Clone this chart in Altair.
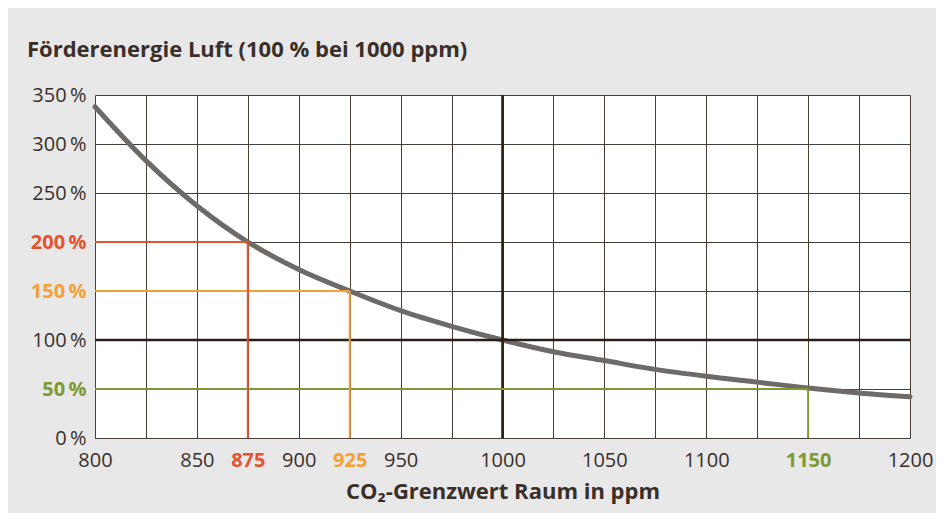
import altair as alt
import pandas as pd

# --- data ---
ppm = [800, 825, 850, 875, 900, 925, 950, 975, 1000, 1025, 1050, 1075, 1100, 1125, 1150, 1175, 1200]
energy = [338, 283, 237, 200, 172, 150, 130, 114, 100, 88, 79, 70, 63, 57, 51, 46, 42]

grid_ppm = [800, 825, 850, 875, 900, 925, 950, 975, 1000, 1025, 1050, 1075, 1100, 1125, 1150, 1175, 1200]
label_ppm = [800, 850, 875, 900, 925, 950, 1000, 1050, 1100, 1150, 1200]
grid_pct = [0, 50, 100, 150, 200, 250, 300, 350]

marker_names = ["rot", "orange", "gruen"]
marker_ppm = [875, 925, 1150]
marker_pct = [200, 150, 50]
marker_colors = ["#e5532f", "#f5a035", "#7e9a33"]

ref_ppm = [1000]
ref_pct = [100]

x_domain = [800, 1200]
y_domain = [0, 350]

TEXT = "#3a2f28"
FONT = "Open Sans"
X_TITLE = "CO₂-Grenzwert Raum in ppm"

curve_df = pd.DataFrame({"ppm": ppm, "energy": energy})
mark_df = pd.DataFrame({
    "name": marker_names,
    "ppm": marker_ppm,
    "pct": marker_pct,
    "x0": [x_domain[0]] * len(marker_ppm),
    "y0": [y_domain[0]] * len(marker_ppm),
})

xs = alt.Scale(domain=x_domain, nice=False, zero=False)
ys = alt.Scale(domain=y_domain, nice=False, zero=True)
cs = alt.Scale(domain=marker_names, range=marker_colors)

label_list = "[" + ",".join(str(v) for v in label_ppm) + "]"

x_axis = alt.Axis(
    values=grid_ppm,
    labelExpr=f"indexof({label_list}, datum.value) >= 0 ? datum.label : ''",
    format="d",
    title=X_TITLE,
    labelFlush=False,
    labelOverlap=False,
    labelColor=alt.expr(
        f"datum.value == {marker_ppm[0]} ? '{marker_colors[0]}' : datum.value == {marker_ppm[1]} ? '{marker_colors[1]}' : datum.value == {marker_ppm[2]} ? '{marker_colors[2]}' : '{TEXT}'"
    ),
    labelFontWeight=alt.expr(
        f"indexof([{marker_ppm[0]},{marker_ppm[1]},{marker_ppm[2]}], datum.value) >= 0 ? 'bold' : 'normal'"
    ),
    labelPadding=12,
    titlePadding=11,
)

y_axis = alt.Axis(
    values=grid_pct,
    labelExpr="datum.value + '\u2009%'",
    title=None,
    labelColor=alt.expr(
        f"datum.value == {marker_pct[0]} ? '{marker_colors[0]}' : datum.value == {marker_pct[1]} ? '{marker_colors[1]}' : datum.value == {marker_pct[2]} ? '{marker_colors[2]}' : '{TEXT}'"
    ),
    labelFontWeight=alt.expr(
        f"indexof([{marker_pct[0]},{marker_pct[1]},{marker_pct[2]}], datum.value) >= 0 ? 'bold' : 'normal'"
    ),
    labelPadding=9,
)

curve = alt.Chart(curve_df).mark_line(
    color="#6e6a67", strokeWidth=5, strokeCap="round", interpolate="monotone"
).encode(
    x=alt.X("ppm:Q", scale=xs, axis=x_axis, title=X_TITLE),
    y=alt.Y("energy:Q", scale=ys, axis=y_axis, title=None),
)

ref_v = alt.Chart(pd.DataFrame({"ppm": ref_ppm})).mark_rule(
    color="#2a1f18", strokeWidth=2.5
).encode(x=alt.X("ppm:Q", scale=xs, axis=x_axis, title=X_TITLE))

ref_h = alt.Chart(pd.DataFrame({"pct": ref_pct})).mark_rule(
    color="#2a1f18", strokeWidth=2.5
).encode(y=alt.Y("pct:Q", scale=ys, axis=y_axis, title=None))

mark_h = alt.Chart(mark_df).mark_rule(strokeWidth=2).encode(
    x=alt.X("x0:Q", scale=xs, axis=x_axis, title=X_TITLE),
    x2="ppm:Q",
    y=alt.Y("pct:Q", scale=ys, axis=y_axis, title=None),
    color=alt.Color("name:N", scale=cs, legend=None),
)

mark_v = alt.Chart(mark_df).mark_rule(strokeWidth=2).encode(
    x=alt.X("ppm:Q", scale=xs, axis=x_axis, title=X_TITLE),
    y=alt.Y("y0:Q", scale=ys, axis=y_axis, title=None),
    y2="pct:Q",
    color=alt.Color("name:N", scale=cs, legend=None),
)

chart = alt.layer(curve, ref_v, ref_h, mark_h, mark_v).properties(
    width=815,
    height=343,
    autosize=alt.AutoSizeParams(type="none"),
    padding={"left": 87, "top": 87, "right": 26, "bottom": 75},
    background="#e8e8e8",
    title=alt.TitleParams(
        "Förderenergie Luft (100 % bei 1000 ppm)",
        anchor="start",
        frame="group",
        dx=-68,
        offset=23,
        font=FONT,
        fontSize=22,
        fontWeight="bold",
        color=TEXT,
    ),
).configure_axis(
    labelFont=FONT,
    labelFontSize=20,
    titleFont=FONT,
    titleFontSize=22,
    titleFontWeight="bold",
    titleColor=TEXT,
    grid=True,
    gridColor="#4a3f38",
    gridWidth=1,
    gridOpacity=1,
    domain=False,
    ticks=False,
).configure_view(stroke=None, fill="white")

chart.save("out.html", embed_options={"renderer": "svg", "actions": False})
